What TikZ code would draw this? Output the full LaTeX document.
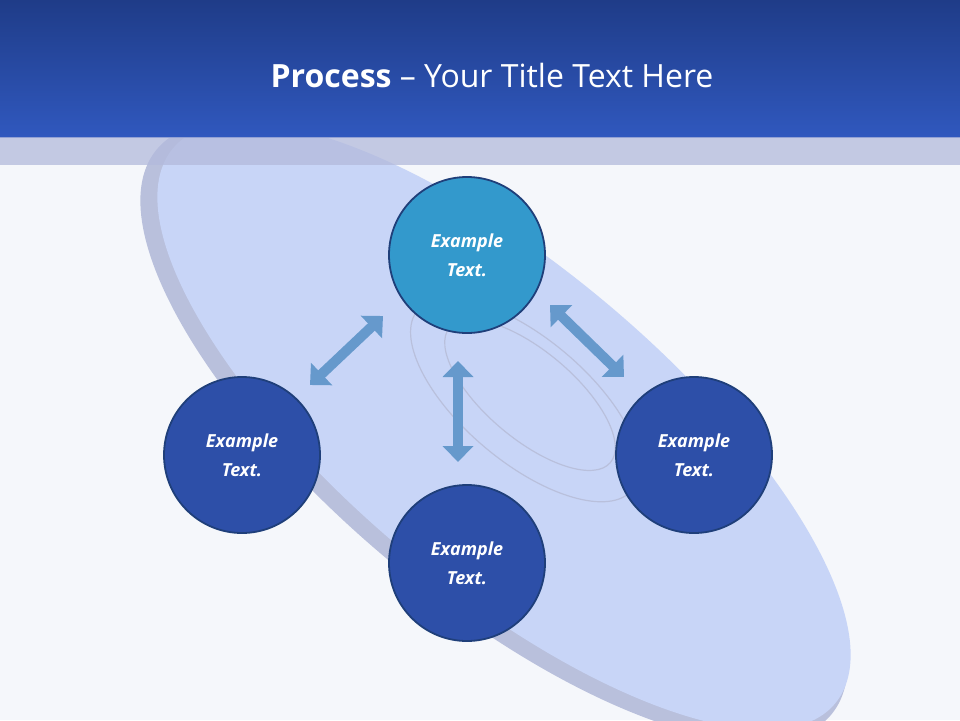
\documentclass[tikz,border=0pt]{standalone}
\usepackage{fontspec}
\setmainfont{Open Sans}
\usetikzlibrary{arrows.meta}
\definecolor{bg}{HTML}{F5F7FB}
\definecolor{hdtop}{HTML}{1F3C88}
\definecolor{hdbot}{HTML}{3058BE}
\definecolor{band}{HTML}{B3BADC}
\definecolor{disc}{HTML}{C8D5F7}
\definecolor{discedge}{HTML}{B9C0DC}
\definecolor{topc}{HTML}{3399CC}
\definecolor{botc}{HTML}{2D4FA8}
\definecolor{ringc}{HTML}{1F3F7A}
\definecolor{arr}{HTML}{6699CC}
\tikzset{
 item/.style={circle,minimum size=156pt,line width=1.8pt,draw=ringc,fill=botc,text=white,align=center,font=\bfseries\itshape\fontsize{18}{29}\selectfont},
 dbl/.style={arr,line width=10pt,{Triangle[length=16pt,width=30pt]}-{Triangle[length=16pt,width=30pt]}},
}
\begin{document}
\begin{tikzpicture}[x=1pt,y=-1pt]
\useasboundingbox (0,0) rectangle (960,720);
\fill[bg] (0,0) rectangle (960,720);
% disc
\fill[discedge, rotate around={-40:(494,432)}] (494,432) ellipse (440 and 166);
\fill[disc, rotate around={-40:(504,426)}] (504,426) ellipse (432 and 160);
\draw[discedge,line width=1.2pt, rotate around={-40:(525,400)}] (525,400) ellipse (140 and 62);
\draw[discedge,line width=1.2pt, rotate around={-40:(530,395)}] (530,395) ellipse (105 and 44);
% header
\shade[top color=hdtop,bottom color=hdbot] (0,0) rectangle (960,137);
\fill[band,opacity=0.75] (0,137) rectangle (960,165);
\node[text=white,font=\fontsize{32}{38}\selectfont] (title) at (492,75) {\textbf{Process} -- Your Title Text Here};
% circles
\node[item,fill=topc] (t) at (467,255) {Example\\Text.};
\node[item] (l) at (242,455) {Example\\Text.};
\node[item] (r) at (694,455) {Example\\Text.};
\node[item] (b) at (467,563) {Example\\Text.};
% arrows
\coordinate (a1) at (310,385); \coordinate (a2) at (383,316);
\coordinate (b1) at (550,305); \coordinate (b2) at (624,377);
\coordinate (c1) at (458,361); \coordinate (c2) at (458,462);
\draw[dbl] (a1) -- (a2);
\draw[dbl] (b1) -- (b2);
\draw[dbl] (c1) -- (c2);
\end{tikzpicture}
\end{document}
